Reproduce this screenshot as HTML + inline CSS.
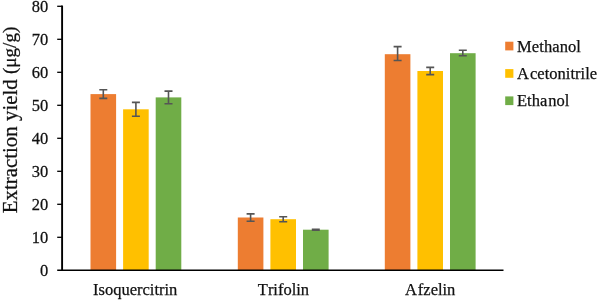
<!DOCTYPE html>
<html><head><meta charset="utf-8"><title>Extraction yield</title>
<style>html,body{margin:0;padding:0;background:#fff}svg{display:block}text{font-family:"Liberation Serif","DejaVu Serif",serif;fill:#111;stroke:#111;stroke-width:0.25px;font-kerning:none;font-variant-ligatures:none}</style></head><body>
<svg width="597" height="300" viewBox="0 0 597 300">
<rect width="597" height="300" fill="#fff"/>
<rect x="90.5" y="94.1" width="25.6" height="175.9" fill="#ED7D31"/>
<rect x="123.1" y="109.3" width="25.6" height="160.7" fill="#FFC000"/>
<rect x="155.7" y="97.4" width="25.6" height="172.6" fill="#70AD47"/>
<path d="M99.3 89.8H107.3M103.3 89.8V98.4M99.3 98.4H107.3" stroke="#555" stroke-width="1.6" fill="none"/>
<path d="M131.9 102.4H139.9M135.9 102.4V116.2M131.9 116.2H139.9" stroke="#555" stroke-width="1.6" fill="none"/>
<path d="M164.5 91.1H172.5M168.5 91.1V103.7M164.5 103.7H172.5" stroke="#555" stroke-width="1.6" fill="none"/>
<text x="93.0" y="295" font-size="16.5">Isoquercitrin</text>
<rect x="237.8" y="217.5" width="25.6" height="52.5" fill="#ED7D31"/>
<rect x="270.4" y="219.2" width="25.6" height="50.8" fill="#FFC000"/>
<rect x="303.0" y="229.7" width="25.6" height="40.3" fill="#70AD47"/>
<path d="M246.6 213.9H254.6M250.6 213.9V221.2M246.6 221.2H254.6" stroke="#555" stroke-width="1.6" fill="none"/>
<path d="M279.2 216.7H287.2M283.2 216.7V221.7M279.2 221.7H287.2" stroke="#555" stroke-width="1.6" fill="none"/>
<path d="M311.8 229.4H319.8M315.8 229.4V230.1M311.8 230.1H319.8" stroke="#555" stroke-width="1.6" fill="none"/>
<text x="257.8" y="295" font-size="16.5">Trifolin</text>
<rect x="384.8" y="54.2" width="25.6" height="215.8" fill="#ED7D31"/>
<rect x="417.4" y="71.0" width="25.6" height="199.0" fill="#FFC000"/>
<rect x="450.0" y="53.2" width="25.6" height="216.8" fill="#70AD47"/>
<path d="M393.6 46.6H401.6M397.6 46.6V60.5M393.6 60.5H401.6" stroke="#555" stroke-width="1.6" fill="none"/>
<path d="M426.2 67.4H434.2M430.2 67.4V74.6M426.2 74.6H434.2" stroke="#555" stroke-width="1.6" fill="none"/>
<path d="M458.8 50.2H466.8M462.8 50.2V55.8M458.8 55.8H466.8" stroke="#555" stroke-width="1.6" fill="none"/>
<text x="404.9" y="295" font-size="16.5">A<tspan dx="1">fzelin</tspan></text>
<path d="M62.1 5.5V270.9" stroke="#000" stroke-width="1.9" fill="none"/>
<path d="M57.2 270.3H503.5" stroke="#000" stroke-width="1.4" fill="none"/>
<path d="M57.2 237.3H62" stroke="#000" stroke-width="1.3"/>
<path d="M57.2 204.3H62" stroke="#000" stroke-width="1.3"/>
<path d="M57.2 171.3H62" stroke="#000" stroke-width="1.3"/>
<path d="M57.2 138.3H62" stroke="#000" stroke-width="1.3"/>
<path d="M57.2 105.3H62" stroke="#000" stroke-width="1.3"/>
<path d="M57.2 72.3H62" stroke="#000" stroke-width="1.3"/>
<path d="M57.2 39.3H62" stroke="#000" stroke-width="1.3"/>
<path d="M57.2 6.3H62" stroke="#000" stroke-width="1.3"/>
<text transform="translate(48.3 275.9) scale(1 1.045)" font-size="16.5" text-anchor="end">0</text>
<text transform="translate(48.3 242.9) scale(1 1.045)" font-size="16.5" text-anchor="end">10</text>
<text transform="translate(48.3 209.9) scale(1 1.045)" font-size="16.5" text-anchor="end">20</text>
<text transform="translate(48.3 176.9) scale(1 1.045)" font-size="16.5" text-anchor="end">30</text>
<text transform="translate(48.3 143.9) scale(1 1.045)" font-size="16.5" text-anchor="end">40</text>
<text transform="translate(48.3 110.9) scale(1 1.045)" font-size="16.5" text-anchor="end">50</text>
<text transform="translate(48.3 77.9) scale(1 1.045)" font-size="16.5" text-anchor="end">60</text>
<text transform="translate(48.3 44.9) scale(1 1.045)" font-size="16.5" text-anchor="end">70</text>
<text transform="translate(48.3 11.9) scale(1 1.045)" font-size="16.5" text-anchor="end">80</text>
<text transform="translate(17 213.3) rotate(-90)" font-size="20.9">Extraction yield <tspan font-size="19.1" dy="-1.3">(μg/g)</tspan></text>
<rect x="505.2" y="41.7" width="8.2" height="8.7" fill="#ED7D31"/>
<text x="517" y="51.6" font-size="16.5" letter-spacing="0.1">Methanol</text>
<rect x="505.2" y="69.1" width="8.2" height="8.7" fill="#FFC000"/>
<text x="517" y="79.0" font-size="16.5" letter-spacing="0.03">A<tspan dx="1">cetonitrile</tspan></text>
<rect x="505.2" y="96.4" width="8.2" height="8.7" fill="#70AD47"/>
<text x="517" y="106.3" font-size="16.5" letter-spacing="0.03">Etha<tspan dx="0.9">nol</tspan></text>
</svg></body></html>
